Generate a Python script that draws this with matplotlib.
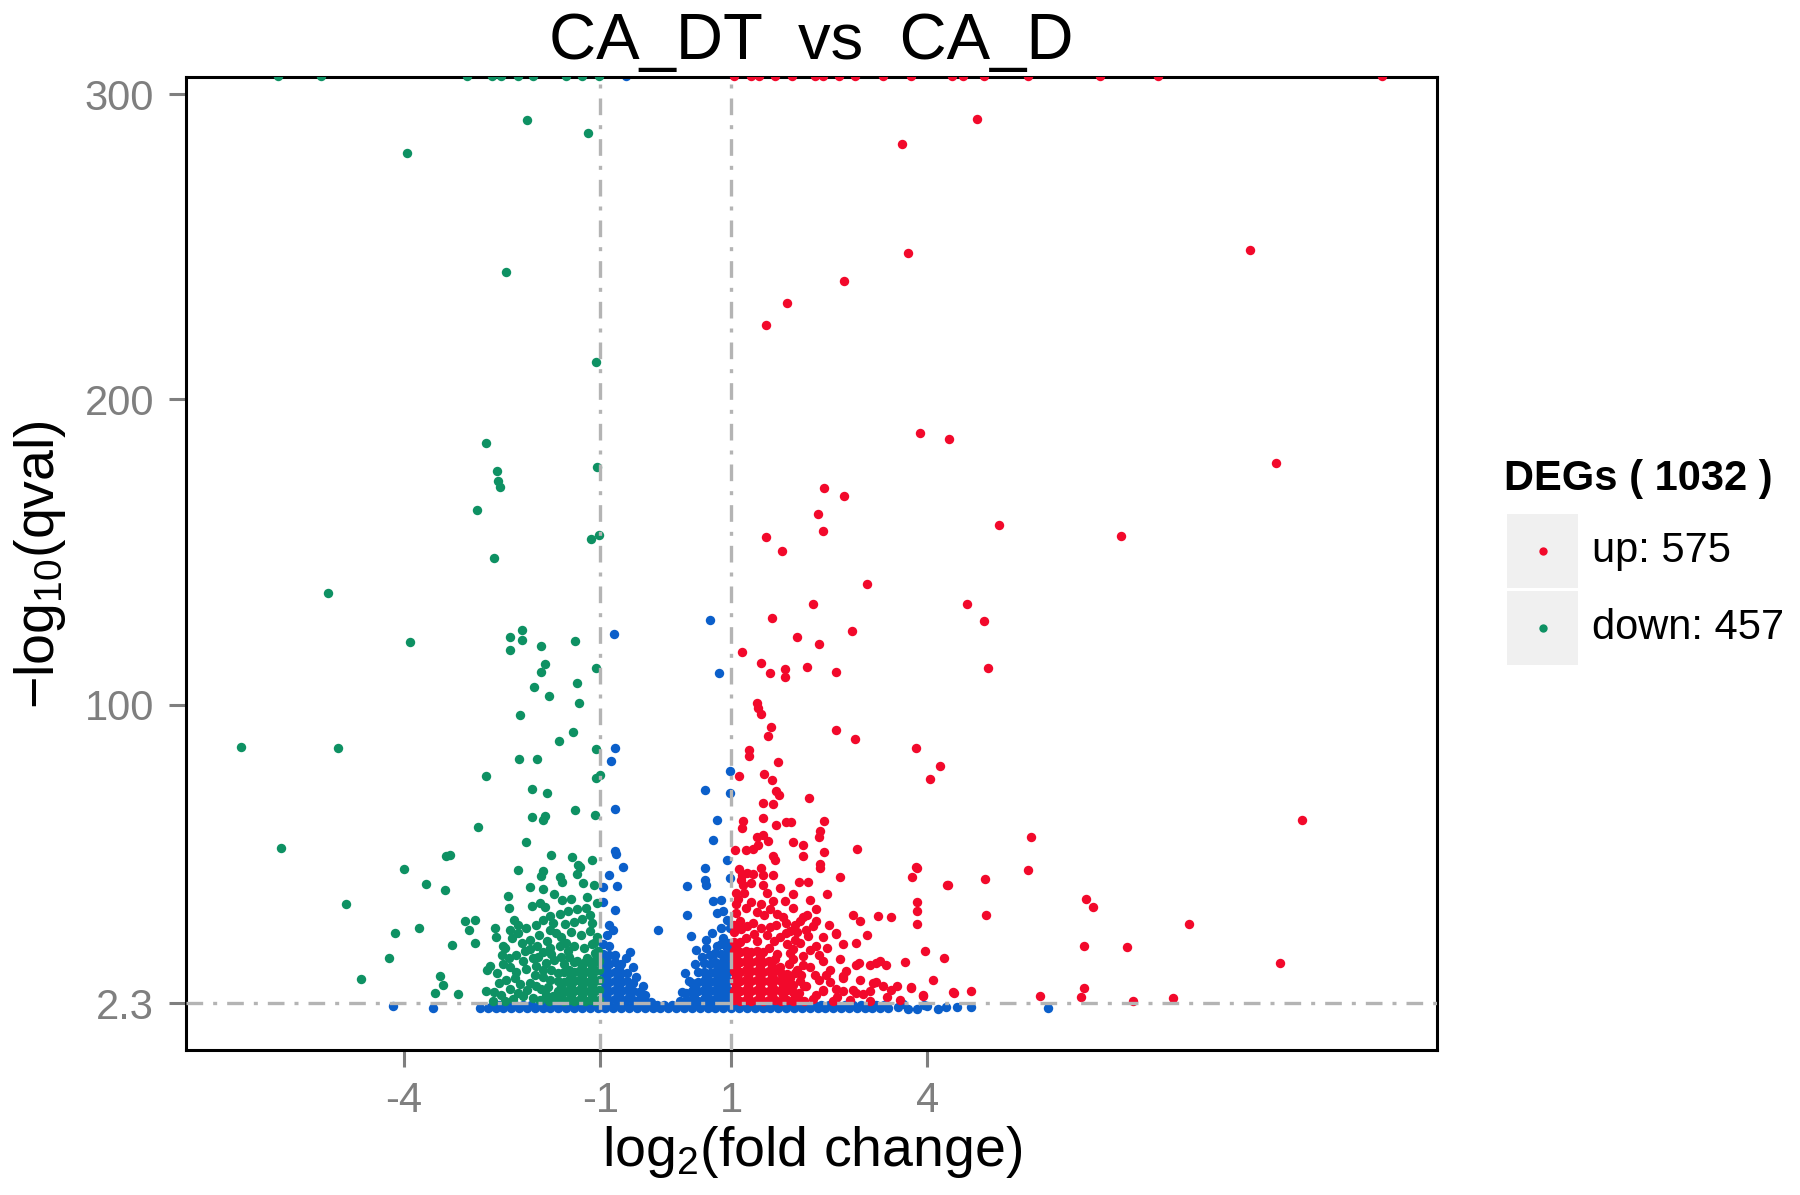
import matplotlib
matplotlib.use("Agg")
import matplotlib.pyplot as plt
from matplotlib.patches import Rectangle
from matplotlib.lines import Line2D

plt.rcParams["font.family"] = ["Liberation Sans", "DejaVu Sans"]
plt.rcParams["mathtext.default"] = "regular"

# ---- data (log2 fold change, -log10 qval) ----
Y_CAP = 306.0  # genes with q ~ 0 are pinned to the top border

down_cap_x = [-5.93, -5.27, -3.03, -2.66, -2.51, -2.26, -2.02, -1.53, -1.28, -1.02]
up_cap_x = [1.05, 1.30, 1.42, 1.67, 1.93, 2.28, 2.40, 2.65, 2.89, 3.32, 3.75,
            4.37, 4.55, 4.86, 5.53, 6.64, 7.52, 10.94]
ns_cap_x = [-0.61]

down_pts = [
    (-3.95, 280.8), (-2.12, 291.4), (-1.18, 287.2), (-2.44, 241.7), (-1.07, 212.3),
    (-2.75, 185.7), (-2.58, 176.7), (-2.56, 173.3), (-2.53, 171.4), (-2.89, 163.9),
    (-2.63, 148.1), (-1.05, 177.8), (-1.14, 154.2), (-1.02, 155.7), (-5.16, 136.5),
    (-6.49, 86.1), (-5.00, 85.9), (-5.88, 53.0), (-4.88, 34.6), (-3.91, 120.7),
    (-2.38, 122.3), (-2.19, 124.6), (-2.20, 121.3), (-2.38, 117.8), (-1.91, 119.4),
    (-1.38, 121.0), (-1.07, 112.1), (-1.85, 113.3), (-1.91, 110.7), (-2.01, 105.7),
    (-1.79, 103.0), (-1.35, 107.0), (-1.33, 100.7), (-2.23, 96.6), (-1.42, 91.1),
    (-1.63, 88.1), (-2.24, 82.1), (-1.97, 82.1), (-1.07, 85.5), (-1.06, 76.0),
    (-1.01, 77.1), (-2.75, 76.8), (-2.04, 72.3), (-1.82, 71.0), (-2.04, 63.2),
    (-1.88, 62.4), (-1.84, 63.7), (-1.38, 65.4), (-1.08, 64.0), (-2.86, 60.1),
    (-2.14, 54.9), (-1.75, 50.9), (-1.43, 50.2), (-1.13, 49.2), (-3.35, 50.5),
    (-3.30, 50.9), (-4.00, 46.1), (-2.26, 46.0), (-1.91, 43.9), (-1.87, 45.4),
    (-1.62, 43.7), (-1.59, 41.8), (-1.36, 44.6), (-1.31, 47.0), (-1.26, 41.6),
    (-1.34, 47.4), (-3.66, 41.3), (-3.37, 39.4), (-2.08, 40.3), (-1.87, 39.7),
    (-2.41, 37.5), (-2.40, 33.5), (-2.05, 34.1), (-1.92, 35.1), (-1.85, 33.8),
    (-1.59, 35.9), (-3.07, 29.3), (-2.92, 29.4), (-3.01, 26.1), (-3.77, 26.9),
    (-4.13, 25.3), (-3.26, 21.3), (-2.91, 22.0), (-4.22, 17.1), (-4.65, 10.3),
    (-3.45, 11.1), (-3.40, 8.3), (-3.52, 5.6), (-3.17, 5.4), (-2.73, 13.2),
    (-2.69, 14.3), (-2.74, 6.1), (-2.64, 2.9), (-2.61, 26.9), (-2.59, 24.1),
    (-2.46, 20.3), (-2.48, 20.9), (-2.38, 26.3), (-2.31, 29.6), (-2.26, 25.3),
    (-2.13, 26.8), (-2.08, 23.0), (-1.98, 27.9), (-1.87, 29.6), (-1.77, 30.7),
    (-1.77, 26.3), (-1.67, 25.1), (-1.54, 28.3), (-1.40, 28.9), (-1.28, 29.9),
    (-1.16, 31.0), (-1.15, 26.0), (-1.05, 24.0), (-1.30, 24.5), (-1.45, 25.5),
    (-1.05, 35.0), (-1.20, 37.0), (-1.45, 36.5), (-1.70, 38.0), (-1.10, 41.0),
    (-2.08, 20.0), (-1.97, 21.0), (-1.87, 19.0), (-1.77, 20.2), (-1.62, 21.0),
    (-1.52, 22.0), (-2.28, 18.0), (-2.18, 16.0), (-2.48, 15.0), (-2.38, 14.0),
    (-2.58, 12.0), (-2.28, 12.5), (-2.13, 13.5), (-1.98, 14.5), (-1.83, 15.5),
    (-2.08, 9.0), (-1.98, 8.0), (-1.87, 11.0), (-1.77, 10.0), (-2.23, 8.5),
    (-2.38, 7.0), (-2.52, 5.0), (-2.62, 6.0), (-2.18, 4.5), (-2.03, 4.0),
    (-1.83, 5.0), (-1.90, 7.0), (-2.44, 10.0), (-2.33, 3.5), (-1.95, 17.5),
    (-2.20, 22.0), (-1.70, 16.5), (-1.60, 17.5), (-1.75, 13.0), (-1.65, 12.0),
    (-1.80, 7.5), (-1.72, 4.5), (-2.50, 18.0), (-2.55, 9.0), (-1.50, 19.5),
    (-1.40, 21.0), (-1.25, 20.5), (-1.12, 21.5), (-1.20, 17.0), (-1.35, 16.0),
    (-1.55, 15.0), (-1.03, 19.5), (-1.10, 22.0),
    (-2.35, 23.5), (-2.25, 28.0), (-2.15, 19.5), (-2.02, 17.0), (-1.93, 24.5),
    (-1.82, 22.5), (-1.72, 28.5), (-1.62, 31.5), (-1.50, 32.5), (-1.35, 33.0),
    (-1.22, 33.5), (-1.12, 28.5), (-1.60, 24.0), (-1.48, 17.5), (-1.75, 18.5),
    (-1.88, 13.0), (-2.00, 11.5), (-2.12, 6.5), (-2.25, 5.5), (-1.92, 3.2),
    (-1.78, 2.9), (-2.45, 3.0), (-2.30, 10.5), (-2.40, 17.0),
    # solid patch just left of -1
    (-1.64, 3.2), (-1.64, 6.3), (-1.64, 9.5),
    (-1.56, 3.0), (-1.56, 6.0), (-1.56, 9.2), (-1.56, 12.4),
    (-1.48, 3.4), (-1.48, 6.6), (-1.48, 9.8), (-1.48, 13.0),
    (-1.40, 3.1), (-1.40, 6.2), (-1.40, 9.4), (-1.40, 12.6), (-1.40, 15.8),
    (-1.32, 3.3), (-1.32, 6.5), (-1.32, 9.7), (-1.32, 12.9),
    (-1.24, 3.0), (-1.24, 6.1), (-1.24, 9.3), (-1.24, 12.5), (-1.24, 15.6),
    (-1.16, 3.2), (-1.16, 6.4), (-1.16, 9.6), (-1.16, 12.8), (-1.16, 16.0),
    (-1.08, 3.1), (-1.08, 6.3), (-1.08, 9.5), (-1.08, 12.7), (-1.08, 15.9), (-1.08, 18.8),
    (-1.02, 3.4), (-1.02, 6.6), (-1.02, 9.8), (-1.02, 13.0), (-1.02, 16.2),
    (-1.60, 4.7), (-1.60, 7.9), (-1.44, 4.7), (-1.44, 7.9), (-1.44, 11.1),
    (-1.28, 4.7), (-1.28, 7.9), (-1.28, 11.1), (-1.28, 14.3),
    (-1.12, 4.7), (-1.12, 7.9), (-1.12, 11.1), (-1.12, 14.3), (-1.05, 17.5),
]

up_pts = [
    (4.75, 291.7), (3.61, 283.8), (3.70, 248.1), (8.93, 248.9), (2.72, 238.7),
    (1.86, 231.6), (1.53, 224.4), (3.88, 189.1), (4.33, 186.9), (9.33, 179.3),
    (2.42, 171.1), (2.72, 168.4), (2.33, 162.4), (2.40, 156.8), (5.09, 159.0),
    (6.96, 155.3), (1.54, 154.9), (1.77, 150.4), (3.07, 139.5), (4.60, 133.1),
    (4.86, 127.5), (4.93, 112.0), (3.82, 85.7), (4.19, 80.1), (4.04, 75.6),
    (9.72, 62.4), (5.58, 56.8), (5.53, 45.9), (3.84, 46.6), (3.77, 43.6),
    (4.88, 42.9), (4.32, 41.0), (3.84, 35.4), (3.84, 32.4), (3.84, 28.3),
    (4.89, 31.2), (6.42, 36.5), (6.53, 33.9), (8.00, 28.2), (6.39, 21.1),
    (7.05, 20.7), (9.39, 15.4), (3.96, 19.2), (4.26, 16.9), (3.65, 15.8),
    (4.09, 9.8), (3.75, 7.6), (4.40, 5.7), (4.67, 6.4), (3.93, 4.5),
    (5.72, 4.5), (6.39, 7.2), (6.35, 4.2), (7.14, 3.1), (7.75, 3.8),
    (2.25, 133.1), (1.63, 128.3), (2.01, 122.3), (2.85, 124.2), (2.35, 119.9),
    (1.16, 117.4), (1.46, 113.6), (1.59, 110.5), (1.83, 111.6), (1.83, 109.1),
    (2.16, 112.5), (2.60, 110.6), (1.39, 100.6), (1.41, 98.9), (1.45, 97.1),
    (1.61, 92.7), (1.56, 89.9), (2.60, 91.6), (2.89, 88.7), (1.28, 85.3),
    (1.28, 83.1), (1.12, 76.8), (1.50, 77.2), (1.62, 75.3), (1.71, 81.4),
    (1.69, 71.8), (1.73, 70.3), (2.19, 69.5), (1.49, 67.9), (1.64, 67.5),
    (1.18, 61.8), (1.17, 59.5), (1.48, 63.0), (1.69, 60.5), (1.84, 61.5),
    (1.92, 61.5), (2.42, 61.8), (2.36, 58.6), (2.34, 56.8), (1.06, 52.4),
    (1.23, 52.4), (1.34, 52.7), (1.41, 54.2), (1.39, 56.8), (1.49, 57.4),
    (1.56, 55.5), (1.64, 50.5), (1.67, 49.2), (2.10, 50.5), (1.95, 54.9),
    (2.10, 54.2), (2.42, 51.7), (2.36, 48.0), (2.36, 46.7), (2.93, 52.6),
    (1.12, 46.1), (1.16, 44.2), (1.34, 44.5), (1.46, 46.7), (1.49, 44.2),
    (1.64, 44.2), (1.49, 41.1), (1.31, 41.5), (1.18, 41.1), (2.04, 42.1),
    (2.18, 41.9), (2.66, 43.6), (2.47, 37.9), (3.83, 47.0), (4.30, 41.1),
    (1.07, 34.8), (1.23, 33.6), (1.46, 34.8), (1.64, 35.7), (1.82, 35.7),
    (1.95, 33.6), (2.30, 33.0), (2.16, 31.1), (2.86, 31.1), (2.97, 29.2),
    (3.25, 30.8), (3.45, 30.4), (1.13, 29.2), (1.34, 28.6), (1.59, 27.3),
    (1.84, 28.6), (2.05, 29.2), (2.30, 29.2), (1.84, 25.4), (1.98, 23.0),
    (2.18, 24.2), (2.61, 24.8), (2.71, 21.7), (2.46, 20.4), (2.95, 15.4),
    (3.12, 14.8), (3.22, 15.4), (3.37, 14.8), (2.66, 16.6), (2.76, 12.9),
    (2.35, 17.9), (2.20, 19.8), (2.71, 10.4), (2.51, 9.1), (2.40, 6.6),
    (2.86, 6.6), (3.02, 5.4), (3.22, 9.1), (3.32, 7.9), (3.45, 6.6),
    (3.53, 7.9), (3.75, 7.3), (3.93, 4.8), (4.39, 5.8), (2.20, 14.2),
    (2.07, 11.6), (2.12, 7.9), (1.90, 10.4), (1.74, 14.2), (1.94, 16.7),
    (2.97, 9.9), (3.17, 8.9), (2.91, 5.6), (3.12, 6.2), (2.71, 6.2),
    (2.41, 6.2), (1.08, 38.3), (1.08, 31.8), (1.69, 28.0), (1.98, 28.0),
    (2.15, 26.3), (2.61, 25.3), (2.91, 22.0), (3.07, 24.7), (2.41, 16.0),
    (2.91, 14.9), (3.27, 16.0), (2.51, 13.2), (2.71, 11.1), (1.90, 18.7),
    (2.10, 17.6), (2.30, 20.9), (2.00, 13.2), (2.35, 9.9), (2.15, 7.8),
    (2.25, 3.6), (2.55, 3.1), (2.62, 4.3), (2.82, 3.4), (3.12, 3.0),
    (3.38, 4.2), (3.58, 3.2),
    (1.05, 28.0), (1.15, 26.5), (1.25, 27.5), (1.35, 25.0), (1.45, 27.0),
    (1.55, 24.5), (1.65, 22.5), (1.75, 24.0), (1.85, 21.5), (1.95, 20.0),
    (2.05, 22.0), (1.10, 36.5), (1.20, 38.5), (1.30, 35.5), (1.40, 32.0),
    (1.50, 31.0), (1.60, 33.0), (1.70, 31.5), (1.80, 30.5), (1.90, 26.0),
    (2.00, 25.5), (2.10, 30.5), (2.20, 36.0), (1.15, 42.5), (1.25, 45.0),
    (1.55, 38.5), (1.75, 40.0), (1.95, 38.0), (2.25, 27.5), (2.40, 24.0),
    (2.50, 28.0), (1.70, 18.5), (1.88, 15.0), (1.97, 12.0), (2.06, 9.5),
    (2.10, 14.8), (2.28, 11.5), (2.30, 5.0), (2.45, 11.5), (2.60, 7.0),
    # solid patch just right of +1
    (1.04, 3.2), (1.04, 6.4), (1.04, 9.6), (1.04, 12.8), (1.04, 16.0), (1.04, 19.2), (1.04, 22.4), (1.04, 25.6),
    (1.13, 3.0), (1.13, 6.2), (1.13, 9.4), (1.13, 12.6), (1.13, 15.8), (1.13, 19.0), (1.13, 22.2),
    (1.22, 3.4), (1.22, 6.6), (1.22, 9.8), (1.22, 13.0), (1.22, 16.2), (1.22, 19.4), (1.22, 23.5),
    (1.31, 3.1), (1.31, 6.3), (1.31, 9.5), (1.31, 12.7), (1.31, 15.9), (1.31, 19.1),
    (1.40, 3.3), (1.40, 6.5), (1.40, 9.7), (1.40, 12.9), (1.40, 16.1), (1.40, 19.3), (1.40, 22.6),
    (1.49, 3.0), (1.49, 6.2), (1.49, 9.4), (1.49, 12.6), (1.49, 15.8), (1.49, 19.0),
    (1.58, 3.2), (1.58, 6.4), (1.58, 9.6), (1.58, 12.8), (1.58, 16.0), (1.58, 20.5),
    (1.67, 3.4), (1.67, 6.6), (1.67, 9.8), (1.67, 13.0), (1.67, 16.6),
    (1.76, 3.1), (1.76, 6.3), (1.76, 9.5), (1.76, 12.2),
    (1.85, 3.3), (1.85, 6.5), (1.85, 9.0), (1.85, 11.8),
    (1.94, 3.0), (1.94, 5.8), (1.94, 8.2),
    (2.03, 3.2), (2.03, 5.6), (2.12, 3.0),
    (1.08, 4.8), (1.08, 8.0), (1.08, 11.2), (1.08, 14.4), (1.08, 17.6), (1.08, 20.8),
    (1.26, 4.8), (1.26, 8.0), (1.26, 11.2), (1.26, 14.4), (1.26, 17.6),
    (1.44, 4.8), (1.44, 8.0), (1.44, 11.2), (1.44, 14.4), (1.44, 17.6),
    (1.62, 4.8), (1.62, 8.0), (1.62, 11.2), (1.62, 14.4),
    (1.80, 4.8), (1.80, 8.0), (1.80, 10.8), (1.98, 4.4),
]

ns_pts = [
    (-0.79, 123.3), (0.68, 127.8), (0.82, 110.4), (-0.78, 85.9), (-0.84, 81.7),
    (0.98, 78.3), (0.60, 72.0), (0.99, 71.1), (-0.78, 65.9), (0.78, 62.4),
    (0.72, 55.8), (-0.78, 52.0), (-0.76, 51.2), (-0.65, 46.8), (0.93, 49.3),
    (-0.86, 44.3), (0.60, 46.5), (0.60, 42.7), (0.61, 41.1), (0.98, 43.3),
    (-0.95, 40.3), (-0.75, 40.5), (0.32, 40.7), (-0.96, 35.3), (-0.78, 32.9),
    (0.72, 35.6), (0.85, 36.2), (0.78, 31.8), (0.88, 32.3), (0.93, 29.6),
    (0.32, 31.3), (-0.86, 28.0), (-0.80, 26.3), (-0.12, 26.3), (0.71, 25.3),
    (0.88, 23.6), (0.98, 26.9), (0.85, 26.9), (0.47, 19.8), (0.62, 20.3),
    (0.78, 20.9), (0.93, 20.3), (0.39, 24.4),
    # lobe between -1 and 0
    (-0.95, 3.5), (-0.95, 6.5), (-0.95, 9.5), (-0.95, 12.5), (-0.95, 15.5), (-0.95, 18.5), (-0.95, 21.5),
    (-0.86, 3.2), (-0.86, 6.2), (-0.86, 9.2), (-0.86, 12.2), (-0.86, 15.2), (-0.86, 18.2), (-0.86, 21.0),
    (-0.77, 3.6), (-0.77, 6.6), (-0.77, 9.6), (-0.77, 12.6), (-0.77, 15.6), (-0.77, 18.0),
    (-0.68, 3.3), (-0.68, 6.3), (-0.68, 9.3), (-0.68, 12.3), (-0.68, 15.0),
    (-0.59, 3.5), (-0.59, 6.5), (-0.59, 9.5), (-0.59, 12.0),
    (-0.50, 3.2), (-0.50, 6.2), (-0.50, 9.0), (-0.41, 3.4), (-0.41, 6.0),
    (-0.32, 3.1), (-0.32, 4.8), (-0.23, 2.8),
    (-0.60, 17.0), (-0.50, 14.0), (-0.45, 11.0), (-0.55, 19.0), (-0.90, 24.5), (-0.35, 8.0),
    (-0.91, 4.9), (-0.91, 7.9), (-0.91, 10.9), (-0.91, 13.9), (-0.91, 16.9),
    (-0.72, 4.9), (-0.72, 7.9), (-0.72, 10.9), (-0.72, 13.9),
    (-0.54, 4.9), (-0.54, 7.9), (-0.37, 4.6),
    # lobe between 0 and +1
    (0.22, 2.9), (0.31, 3.2), (0.31, 5.6), (0.40, 3.4), (0.40, 6.4), (0.40, 9.0),
    (0.49, 3.1), (0.49, 6.1), (0.49, 9.1), (0.49, 12.5),
    (0.58, 3.5), (0.58, 6.5), (0.58, 9.5), (0.58, 12.5), (0.58, 15.5),
    (0.67, 3.2), (0.67, 6.2), (0.67, 9.2), (0.67, 12.2), (0.67, 15.2), (0.67, 18.0),
    (0.76, 3.6), (0.76, 6.6), (0.76, 9.6), (0.76, 12.6), (0.76, 15.6), (0.76, 18.6),
    (0.85, 3.3), (0.85, 6.3), (0.85, 9.3), (0.85, 12.3), (0.85, 15.3), (0.85, 18.3), (0.85, 21.5),
    (0.95, 3.5), (0.95, 6.5), (0.95, 9.5), (0.95, 12.5), (0.95, 15.5), (0.95, 18.5), (0.95, 22.0),
    (0.35, 9.5), (0.30, 12.0), (0.45, 15.0), (0.55, 17.5), (0.25, 6.0), (0.62, 23.0),
    (0.44, 4.8), (0.44, 7.8), (0.62, 4.8), (0.62, 7.8), (0.62, 10.8),
    (0.80, 4.8), (0.80, 7.8), (0.80, 10.8), (0.80, 13.8),
    (0.91, 4.8), (0.91, 7.8), (0.91, 10.8), (0.91, 13.8), (0.91, 16.8),
    # band under the q threshold
    (-4.16, 1.2), (-3.56, 0.8), (-2.84, 0.8), (-2.72, 0.6), (-2.66, 1.5),
    (-2.60, 0.6), (-2.48, 0.6), (-2.36, 0.6), (-2.24, 0.6), (-2.12, 0.6), (-2.00, 0.6),
    (-1.88, 0.6), (-1.76, 0.6), (-1.64, 0.6), (-1.52, 0.6), (-1.40, 0.6), (-1.28, 0.6),
    (-1.16, 0.6), (-1.04, 0.6), (-0.92, 0.6), (-0.80, 0.6), (-0.68, 0.6), (-0.56, 0.6),
    (-0.44, 0.6), (-0.32, 0.6), (-0.20, 0.6), (-0.08, 0.6), (0.04, 0.6), (0.16, 0.6),
    (0.28, 0.6), (0.40, 0.6), (0.52, 0.6), (0.64, 0.6), (0.76, 0.6), (0.88, 0.6),
    (1.00, 0.6), (1.12, 0.6), (1.24, 0.6), (1.36, 0.6), (1.48, 0.6), (1.60, 0.6),
    (1.72, 0.6), (1.84, 0.6), (1.96, 0.6), (2.08, 0.6), (2.20, 0.6), (2.32, 0.6),
    (2.44, 0.6), (2.56, 0.6), (2.68, 0.6), (2.80, 0.6), (2.92, 0.6), (3.04, 0.6),
    (3.16, 0.6), (3.28, 0.6), (3.40, 0.6),
    (-2.54, 1.8), (-2.42, 1.8), (-2.30, 1.8), (-2.18, 1.8), (-2.06, 1.8), (-1.94, 1.8),
    (-1.82, 1.8), (-1.70, 1.8), (-1.58, 1.8), (-1.46, 1.8), (-1.34, 1.8), (-1.22, 1.8),
    (-1.10, 1.8), (-0.98, 1.8), (-0.86, 1.8), (-0.74, 1.8), (-0.62, 1.8), (-0.50, 1.8),
    (-0.38, 1.8), (-0.26, 1.8), (-0.14, 1.8), (-0.02, 1.8), (0.10, 1.8), (0.22, 1.8),
    (0.34, 1.8), (0.46, 1.8), (0.58, 1.8), (0.70, 1.8), (0.82, 1.8), (0.94, 1.8),
    (1.06, 1.8), (1.18, 1.8), (1.30, 1.8), (1.42, 1.8), (1.54, 1.8), (1.66, 1.8),
    (1.78, 1.8), (1.90, 1.8), (2.02, 1.8), (2.14, 1.8), (2.26, 1.8), (2.38, 1.8),
    (2.50, 1.8), (2.62, 1.8), (2.74, 1.8), (2.86, 1.8), (2.98, 1.8), (3.10, 1.8),
    (3.22, 1.8), (3.34, 1.8),
    (3.55, 1.0), (3.70, 0.4), (3.84, 0.2), (4.00, 1.2), (4.16, 0.5), (4.28, 0.9),
    (4.45, 1.1), (4.67, 1.0), (5.84, 0.6), (3.62, 1.9), (3.95, 1.8),
]

n_up, n_down = 575, 457
x_ticks = [-4, -1, 1, 4]
y_ticks = [2.3, 100, 200, 300]
y_tick_labels = ["2.3", "100", "200", "300"]
fc_cut = [-1, 1]
q_cut = 2.3

RED = "#f2092b"
GREEN = "#0e9163"
BLUE = "#0b5fca"
GRID_GREY = "#b4b4b4"
TICK_GREY = "#7f7f7f"


def unzip(pts):
    return [p[0] for p in pts], [p[1] for p in pts]


fig = plt.figure(figsize=(18, 11.95), dpi=100)
ax = fig.add_axes([0.1033, 0.121, 0.6952, 0.8146])

dot = 46
ax.scatter(*unzip(ns_pts), s=dot, c=BLUE, linewidths=0, zorder=2)
ax.scatter(ns_cap_x, [Y_CAP] * len(ns_cap_x), s=dot, c=BLUE, linewidths=0, zorder=2)
ax.scatter(*unzip(down_pts), s=dot, c=GREEN, linewidths=0, zorder=3)
ax.scatter(down_cap_x, [Y_CAP] * len(down_cap_x), s=dot, c=GREEN, linewidths=0, zorder=3)
ax.scatter(*unzip(up_pts), s=dot, c=RED, linewidths=0, zorder=3)
ax.scatter(up_cap_x, [Y_CAP] * len(up_cap_x), s=dot, c=RED, linewidths=0, zorder=3)

ls = (0, (5, 3, 1.2, 3))
for xv in fc_cut:
    ax.axvline(xv, color=GRID_GREY, lw=2.4, linestyle=ls, zorder=4)
ax.axhline(q_cut, color=GRID_GREY, lw=2.4, linestyle=ls, zorder=4)

ax.set_xlim(-7.33, 11.79)
ax.set_ylim(-13.2, 305.6)
ax.set_xticks(x_ticks)
ax.set_xticklabels([str(v) for v in x_ticks])
ax.set_yticks(y_ticks)
ax.set_yticklabels(y_tick_labels)
ax.tick_params(axis="both", length=12, width=2.2, color=TICK_GREY,
               labelcolor=TICK_GREY, labelsize=30, pad=11)
ax.tick_params(axis="x", pad=10)
for sp in ax.spines.values():
    sp.set_linewidth(2.2)
    sp.set_color("black")

axc = 0.1033 + 0.6952 / 2
fig.text(axc, 0.951, "CA_DT  vs  CA_D", ha="center", va="baseline", fontsize=47)
fig.text(axc, 0.036, "log$_{2}$(fold change)", ha="center", va="center", fontsize=40)
fig.text(0.022, 0.528, "\u2212log$_{10}$(qval)", ha="center", va="center",
         rotation=90, fontsize=40)

# legend, drawn by hand so the keys get the grey ggplot background
fig.text(0.8355, 0.599, f"DEGs ( {n_up + n_down} )", ha="left", va="center",
         fontsize=30, fontweight="bold")
key_w, key_h = 0.0395, 0.0615
for i, (col, lab) in enumerate([(RED, f"up: {n_up}"), (GREEN, f"down: {n_down}")]):
    y0 = 0.5082 - i * (key_h + 0.003)
    fig.add_artist(Rectangle((0.8374, y0), key_w, key_h, transform=fig.transFigure,
                             facecolor="#f0f0f0", edgecolor="none"))
    fig.add_artist(Line2D([0.8374 + key_w / 2], [y0 + key_h / 2], transform=fig.transFigure,
                          marker="o", markersize=6, color=col, markeredgewidth=0,
                          linestyle="none"))
    fig.text(0.8846, y0 + key_h / 2, lab, ha="left", va="center", fontsize=30)

fig.savefig("out.png", dpi=100)
